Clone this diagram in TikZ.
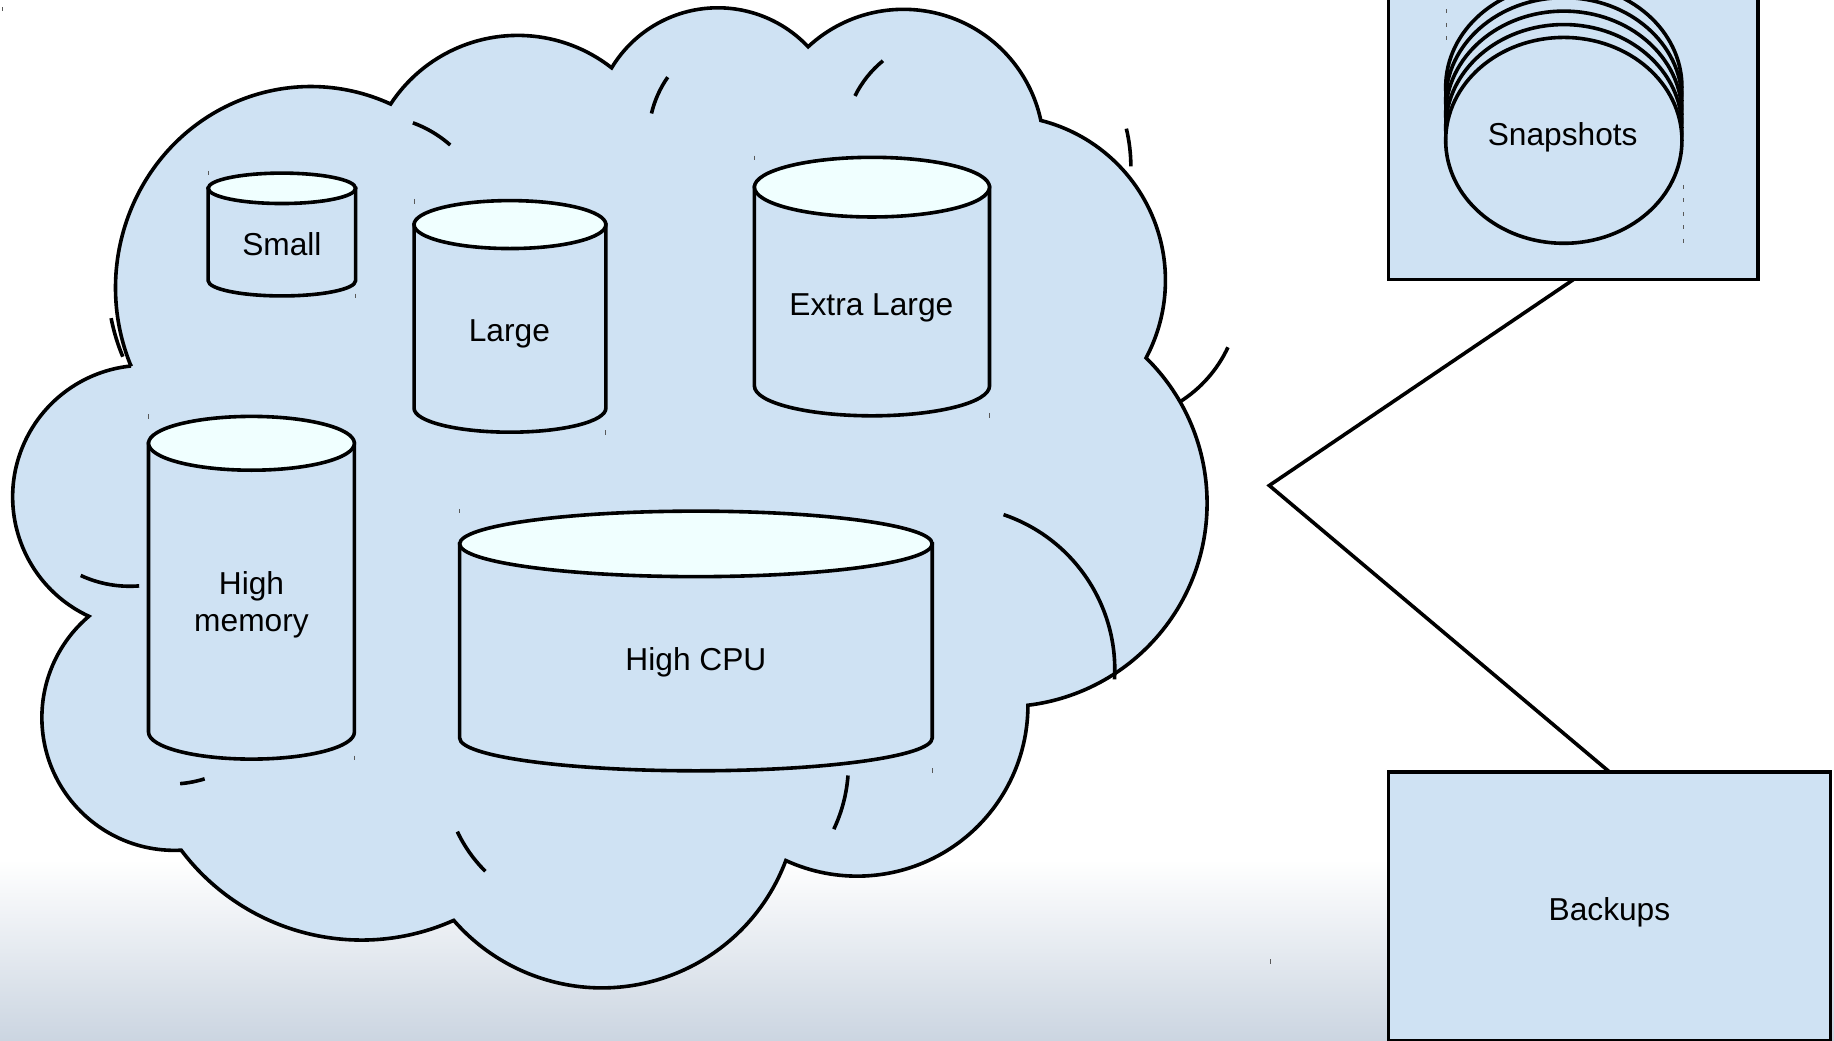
\documentclass[tikz,border=0pt]{standalone}
\usepackage{fontspec}
\setmainfont{Liberation Sans}
\usetikzlibrary{svg.path}
\definecolor{paleblue}{HTML}{CFE2F3}
\definecolor{capfill}{HTML}{F0FFFF}
\definecolor{floorgrey}{HTML}{CBD5E1}
\tikzset{
  ink/.style={draw=black,line width=3.6pt,line join=miter,miter limit=2},
  shapeblue/.style={ink,fill=paleblue},
  capblue/.style={ink,fill=capfill},
  labeltext/.style={font=\fontsize{31.7}{37.4}\selectfont,text=black,inner sep=0pt,text height=22.7pt,text depth=0pt},
  boxnode/.style={shapeblue,rectangle,outer sep=0pt,inner sep=0pt},
  ticklet/.style={draw=black!65,line width=0.9pt},
  tickdash/.style={ticklet,dash pattern=on 4pt off 9.5pt}
}
\newcommand{\mycan}[5]{%
  \pgfmathsetmacro{\canx}{(#1+#2)/2}
  \pgfmathsetmacro{\canr}{(#2-#1)/2}
  \filldraw[shapeblue] (#1,#3) -- (#1,#5) arc[x radius=\canr,y radius=#4,start angle=180,end angle=0] -- (#2,#3) -- cycle;
  \filldraw[capblue] (\canx,#3) ellipse[x radius=\canr,y radius=#4];
}
\begin{document}
\begin{tikzpicture}[x=1pt,y=1pt,scale=1.16964,yscale=-1]
\useasboundingbox (0,0) rectangle (1568,890);
\fill[white] (0,0) rectangle (1568,735);
\shade[top color=white,bottom color=floorgrey] (0,735) rectangle (1568,890);

% cloud
\filldraw[shapeblue] svg {M 112 313
  A 167 172 0 0 1 334 89
  A 130 130 0 0 1 523 58
  A 106 106 0 0 1 691 40
  A 120 120 0 0 1 890 103
  A 141 141 0 0 1 980 306
  A 174 174 0 0 1 879 603
  A 146 146 0 0 1 672 736
  A 168 168 0 0 1 388 787
  A 193 193 0 0 1 155 727
  A 113.5 113.5 0 0 1 76 527
  A 112.5 112.5 0 0 1 112 313 Z};

% inner arcs of the cloud
\draw[ink] svg {M 95 272 A 170 170 0 0 0 105 305};
\draw[ink] svg {M 353 105 A 100 100 0 0 1 385 124};
\draw[ink] svg {M 557 97 A 90 90 0 0 1 571 66};
\draw[ink] svg {M 731 82 A 90 90 0 0 1 755 52};
\draw[ink] svg {M 963 110 A 141 141 0 0 1 967 141};
\draw[ink] svg {M 1008 344 A 110 110 0 0 0 1050 297};
\draw[ink] svg {M 858 440 A 140 140 0 0 1 953 581};
\draw[ink] svg {M 69 492 A 100 100 0 0 0 119 501};
\draw[ink] svg {M 154 670 A 100 100 0 0 0 175 666};
\draw[ink] svg {M 391 711 A 120 120 0 0 0 415 745};
\draw[ink] svg {M 725 663 A 130 130 0 0 1 713 709};

% cans
\mycan{178}{304}{161}{13}{240}
\mycan{354}{518}{192}{20.5}{349}
\mycan{645}{846}{160}{25.5}{330}
\mycan{127}{303}{379}{23}{626}
\mycan{393}{797}{465}{28}{631}

\node[labeltext] (small) at (241,208.5) {Small};
\node[labeltext] (large) at (435.5,282) {Large};
\node[labeltext] (xlarge) at (745,260) {Extra Large};
\node[font=\fontsize{31.7}{37.4}\selectfont,text=black,inner sep=0pt,align=center] (himem) at (215,517) {High\\memory};
\node[labeltext] (hicpu) at (595,563.5) {High CPU};

% right boxes
\node[boxnode,minimum width=369.6pt,minimum height=302.9pt] (snap) at (1345,109.5) {};
\node[boxnode,minimum width=442.1pt,minimum height=268.4pt] (back) at (1376,774.75) {};
\coordinate (elbow) at (1085,415);
\draw[ink,miter limit=10] (snap.south) -- (elbow) -- (back.north);

% snapshot discs
\foreach \cy in {74.5,86,97.5,109,120}
  \filldraw[shapeblue] (1337,\cy) ellipse[x radius=101,y radius=88];

\node[labeltext] (snaplabel) at (1336,115) {Snapshots};
\node[labeltext] (backlabel) at (1376,777) {Backups};

% tiny marks
\draw[ticklet] (2,6) -- (2,9.5);
\draw[ticklet] (178,146) -- (178,150);
\draw[ticklet] (304,251) -- (304,255);
\draw[ticklet] (354,170) -- (354,174);
\draw[ticklet] (518,368) -- (518,372);
\draw[ticklet] (645,133) -- (645,137);
\draw[ticklet] (846,353) -- (846,357);
\draw[ticklet] (127,354) -- (127,358);
\draw[ticklet] (303,646) -- (303,650);
\draw[ticklet] (393,435) -- (393,439);
\draw[ticklet] (797,657) -- (797,661);
\draw[ticklet] (1086,820) -- (1086,824);
\draw[tickdash] (1237,8) -- (1237,37);
\draw[tickdash] (1439,158) -- (1439,209);
\end{tikzpicture}
\end{document}
